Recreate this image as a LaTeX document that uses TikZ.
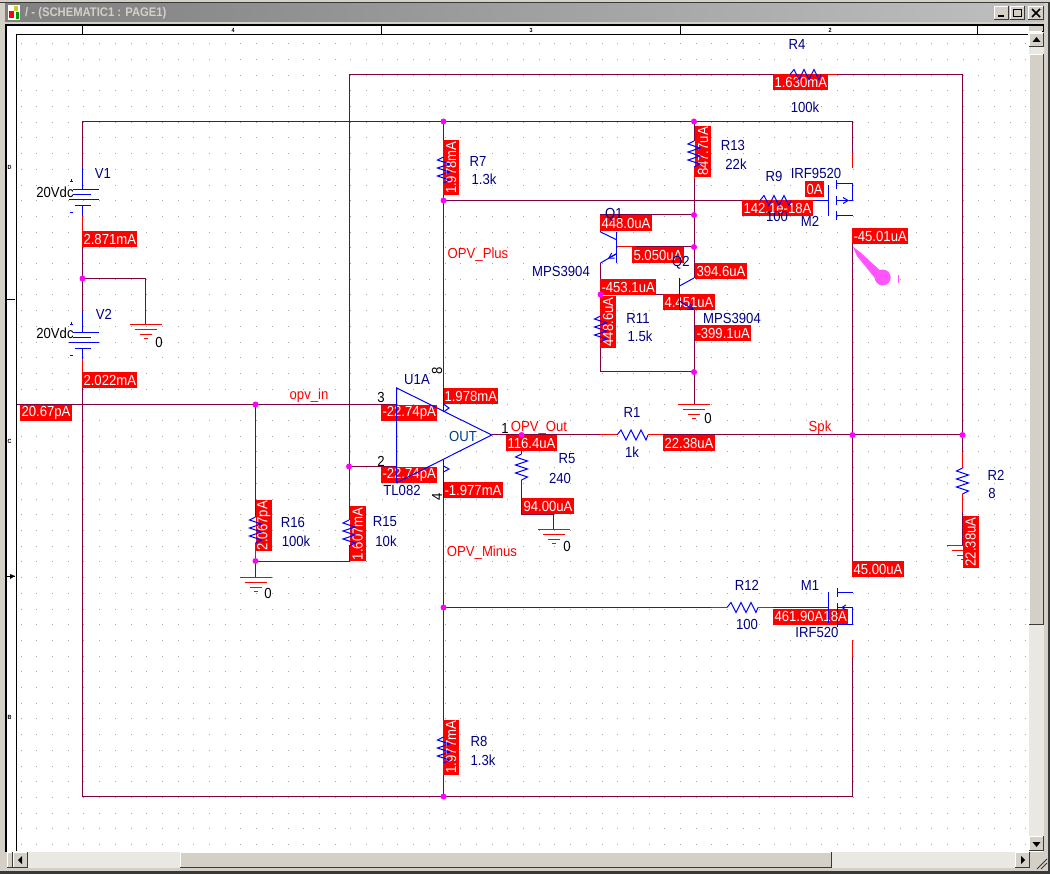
\documentclass[tikz,border=0pt]{standalone}
\usepackage{fontspec}
\setmainfont[FakeStretch=0.9]{Liberation Sans}
\usetikzlibrary{arrows.meta}
\definecolor{wirecol}{RGB}{128,0,64}
\definecolor{partcol}{RGB}{0,0,255}
\definecolor{refcol}{RGB}{0,0,128}
\definecolor{dotcol}{RGB}{255,0,255}
\definecolor{probecol}{RGB}{255,85,255}
\definecolor{wincol}{RGB}{212,208,200}
\definecolor{dithercol}{RGB}{234,232,227}
\newcommand{\winbtn}[4]{
	\fill[gray!45!black] (#1,#2) rectangle (#3,#4);
	\fill[white] (#1,#2) rectangle ({#3-1},{#4-1});
	\fill[wincol] ({#1+1},{#2+1}) rectangle ({#3-1},{#4-1});
}
\tikzset{
	wire/.style={draw=wirecol, line width=1pt},
	pinred/.style={draw=red, line width=1pt},
	part/.style={draw=partcol, line width=1pt},
	junc/.style={circle, fill=dotcol, inner sep=0, minimum size=6pt},
	curlabel/.style={fill=red, text=white, inner sep=0, inner xsep=1.3pt, minimum height=16pt, anchor=north west},
	curlabelv/.style={curlabel, rotate=90},
	reflabel/.style={text=refcol},
	netlabel/.style={text=red},
	pinlabel/.style={text=black},
	hres/.pic={\draw[part] (0,0) -- (4,-5) -- (9,5) -- (14,-5) -- (19,5) -- (24,-5) -- (29,5) -- (31,0);},
	vres/.pic={\draw[part] (0,0) -- (-6,3) -- (6,7) -- (-6,11) -- (6,15) -- (-6,19) -- (6,23) -- (0,26);},
	gndsym/.pic={
		\draw[pinred] (-16,0) -- (16,0);
		\draw[pinred] (-11,5) -- (11,5);
		\draw[pinred] (-6,10) -- (6,10);
		\draw[pinred] (-2,14) -- (2,14);
	},
	battsym/.pic={
		\draw[part] (0,0) -- (0,22);
		\draw[part] (-10,22) -- (16,22);
		\draw[part] (-10,27) -- (8,27);
		\draw[part] (-14,32) -- (16,32);
		\draw[part] (-8,38) -- (8,38);
		\draw[part] (0,38) -- (0,48);
		\draw[part, line width=.7pt] (-13,13) -- (-10,13) (-11.5,11.5) -- (-11.5,14.5);
		\draw[part, line width=.7pt] (-13,44) -- (-10,44);
	},
	every node/.style={font=\fontsize{14.6}{15}\selectfont, inner sep=0}
}
\begin{document}
\begin{tikzpicture}[x=1pt, y=-1pt]
	\useasboundingbox (0,0) rectangle (1050,874);
	% Fenster
	\fill[wincol] (0,0) rectangle (1050,874);
	\fill[gray!45!black] (0,2) rectangle (1050,3.5);
	\shade[left color=gray, right color=gray!50] (5,4) rectangle (1044,22);
	\fill[white] (7,25) rectangle (1043,852);
	\draw[black, line width=2pt] (6,852) -- (6,25) -- (1043,25) -- (1043,32);
	\draw[black, line width=1pt] (16,851) -- (16,34.5) -- (1028,34.5);
	\foreach \x in {82.5,381,680,977}
		\draw[black, line width=1pt] (\x,25) -- (\x,34);
	\foreach \y in {300,576}
		\draw[black, line width=1pt] (7,\y) -- (15,\y);
	\fill[black] (10,574) -- (15,576) -- (10,579) -- cycle;
	\node[pinlabel, font=\fontsize{6}{6}\selectfont\bfseries] (ruler4) at (233,30) {4};
	\node[pinlabel, font=\fontsize{6}{6}\selectfont\bfseries] (ruler3) at (531,30) {3};
	\node[pinlabel, font=\fontsize{6}{6}\selectfont\bfseries] (ruler2) at (830,30) {2};
	\node[pinlabel, font=\fontsize{6}{6}\selectfont\bfseries] (rulerD) at (9.5,167) {D};
	\node[pinlabel, font=\fontsize{6}{6}\selectfont\bfseries] (rulerC) at (9.5,441) {C};
	\node[pinlabel, font=\fontsize{6}{6}\selectfont\bfseries] (rulerB) at (9.5,717) {B};
	\node[text=wincol, anchor=west, font=\fontsize{12.5}{14}\selectfont\bfseries] (title) at (25,13) {/ - (SCHEMATIC1 : PAGE1)};
	\fill[white] (8,5) rectangle (20,20);
	\fill[red] (9,11) rectangle (14,18);
	\fill[yellow!80!black] (14,6) rectangle (18,11);
	\fill[green!60!black] (16,12) rectangle (19,19);
	% Knoepfe und Rollbalken
	\winbtn{994}{6}{1009}{20}
	\winbtn{1010}{6}{1025}{20}
	\winbtn{1028}{6}{1044}{20}
	\draw[black, line width=2pt] (998,16) -- (1004,16);
	\draw[black, line width=1pt] (1013.5,9.5) rectangle (1021.5,16.5);
	\draw[black, line width=1.5pt] (1032,9) -- (1040,17) (1040,9) -- (1032,17);
	\fill[dithercol] (1029,47) rectangle (1044,838);
	\fill[wincol] (1029,26) rectangle (1043,31);
	\winbtn{1029}{33}{1044}{47}
	\winbtn{1029}{54}{1044}{625}
	\winbtn{1029}{836}{1044}{851}
	\fill[black] (1036.5,37) -- (1032.5,42) -- (1040.5,42) -- cycle;
	\fill[black] (1036.5,847) -- (1032.5,842) -- (1040.5,842) -- cycle;
	\fill[dithercol] (14,852) rectangle (1030,868);
	\winbtn{7}{852}{13}{868}
	\winbtn{13}{852}{28}{868}
	\winbtn{180}{852}{832}{868}
	\winbtn{1015}{852}{1030}{868}
	\fill[black] (18,860) -- (22,856) -- (22,864) -- cycle;
	\fill[black] (1025,860) -- (1021,856) -- (1021,864) -- cycle;
	\draw[gray!45!black, line width=1pt] (1037,869) -- (1047,859) (1041,869) -- (1047,863);
	\fill[gray!45!black] (0,871) rectangle (1050,874);
	\fill[gray!45!black] (1048,3.5) rectangle (1050,874);
	% Rasterpunkte
	\foreach \i in {0,...,64}
		\foreach \j in {0,...,51}
			\fill[gray!70] ({20.6+\i*15.7},{43.3+\j*15.7}) rectangle ++(1,1);
	% Punkte der Leitungen
	\coordinate (fbTL) at (349,74.5);
	\coordinate (fbTR) at (962.5,74.5);
	\coordinate (supTL) at (82.5,121.5);
	\coordinate (supTR) at (852.5,121.5);
	\coordinate (supBL) at (82.5,796.5);
	\coordinate (supBR) at (852.5,796.5);
	\coordinate (jV) at (82.5,278.5);
	\coordinate (jTopA) at (443.5,121.5);
	\coordinate (jTopB) at (694,121.5);
	\coordinate (jBot) at (443.5,796.5);
	\coordinate (jPlus) at (443.5,200.5);
	\coordinate (jMinus) at (443.5,607.5);
	\coordinate (jCollA) at (694,215);
	\coordinate (jBaseA) at (694,247);
	\coordinate (jEmit) at (600.5,294.5);
	\coordinate (jGnd) at (694,372);
	\coordinate (jIn) at (255.5,404.5);
	\coordinate (jInv) at (349,466.5);
	\coordinate (jOut) at (521.5,435);
	\coordinate (jSpkA) at (852.5,435);
	\coordinate (jSpkB) at (962.5,435);
	\coordinate (jDiv) at (255.5,561);
	\coordinate (divR) at (349,561);
	\coordinate (inL) at (17,404.5);
	\coordinate (opP) at (396.7,404.5);
	\coordinate (opN) at (396.7,466.5);
	\coordinate (opT) at (491.7,435);
	\coordinate (opVp) at (443.5,388);
	\coordinate (opVn) at (443.5,498);
	\coordinate (v1t) at (82.5,168);
	\coordinate (v1b) at (82.5,216);
	\coordinate (v2t) at (82.5,311);
	\coordinate (v2b) at (82.5,359);
	\coordinate (r4l) at (790,74.5);
	\coordinate (r4r) at (821,74.5);
	\coordinate (r1l) at (617,435);
	\coordinate (r1r) at (648,435);
	\coordinate (r9l) at (760,200.5);
	\coordinate (r9r) at (791,200.5);
	\coordinate (r12l) at (727,607.5);
	\coordinate (r12r) at (758,607.5);
	\coordinate (r7t) at (443.5,157);
	\coordinate (r7b) at (443.5,183);
	\coordinate (r8t) at (443.5,737);
	\coordinate (r8b) at (443.5,763);
	\coordinate (r13t) at (694,141);
	\coordinate (r13b) at (694,167);
	\coordinate (r11t) at (600.5,316);
	\coordinate (r11b) at (600.5,342);
	\coordinate (r16t) at (255.5,517);
	\coordinate (r16b) at (255.5,543);
	\coordinate (r15t) at (349,520);
	\coordinate (r15b) at (349,546);
	\coordinate (r5t) at (521.5,454);
	\coordinate (r5b) at (521.5,480);
	\coordinate (r2t) at (962.5,468);
	\coordinate (r2b) at (962.5,494);
	\coordinate (gndA) at (145.5,325);
	\coordinate (gndB) at (255.5,577);
	\coordinate (gndC) at (553.5,529);
	\coordinate (gndD) at (694,405);
	\coordinate (gndE) at (962.5,545);
	\coordinate (q1c) at (600.5,215);
	\coordinate (q1ce) at (600.5,232);
	\coordinate (q1b) at (616,247);
	\coordinate (q1e) at (600.5,263);
	\coordinate (q2c) at (694,278);
	\coordinate (q2b) at (679.5,294.5);
	\coordinate (q2e) at (694,310);
	\coordinate (m2g) at (828.3,200.5);
	\coordinate (m2d) at (852.5,153);
	\coordinate (m2s) at (852.5,232);
	\coordinate (m1d) at (852.5,577);
	\coordinate (m1g) at (828.3,607.5);
	\coordinate (m1s) at (852.5,640);
	% Leitungen
	\draw[wire] (r15t) -- (fbTL) -- (r4l);
	\draw[wire] (r4r) -- (fbTR) -- (jSpkB) -- (r2t);
	\draw[wire] (v1t) -- (supTL) -- (supTR) -- (m2d);
	\draw[wire] (v1b) -- (v2t);
	\draw[wire] (jV) -| (gndA);
	\draw[wire] (v2b) -- (supBL) -- (supBR) -- (m1s);
	\draw[wire] (inL) -- (opP);
	\draw[wire] (jIn) -- (r16t);
	\draw[wire] (r16b) -- (gndB);
	\draw[wire] (jDiv) -- (divR) -- (r15b);
	\draw[wire] (jInv) -- (opN);
	\draw[wire] (jTopA) -- (r7t);
	\draw[wire] (r7b) -- (opVp);
	\draw[wire] (opVn) -- (r8t);
	\draw[wire] (r8b) -- (jBot);
	\draw[wire] (jPlus) -- (r9l);
	\draw[wire] (r9r) -- (m2g);
	\draw[wire] (jMinus) -- (r12l);
	\draw[wire] (r12r) -- (m1g);
	\draw[wire] (jTopB) -- (r13t);
	\draw[wire] (r13b) -- (q2c);
	\draw[wire] (jCollA) -- (q1c) -- (q1ce);
	\draw[wire] (jBaseA) -- (q1b);
	\draw[wire] (q1e) -- (r11t);
	\draw[wire] (jEmit) -- (q2b);
	\draw[wire] (r11b) |- (jGnd);
	\draw[wire] (q2e) -- (gndD);
	\draw[wire] (opT) -- (r1l);
	\draw[wire] (r1r) -- (jSpkB);
	\draw[wire] (jOut) -- (r5t);
	\draw[wire] (r5b) |- ++(32,34) -- (gndC);
	\draw[wire] (r2b) -- (gndE);
	\draw[wire] (m2s) -- (m1d);
	% rote Anschluesse
	\draw[pinred] (v1b) -- ++(0,16);
	\draw[pinred] (v2b) -- ++(0,14);
	\draw[pinred] (r4r) -- ++(16,0);
	\draw[pinred] (r1l) -- ++(-17,0);
	\draw[pinred] (r1r) -- ++(15,0);
	\draw[pinred] (r12l) -- ++(-16,0);
	\draw[pinred] (r12r) -- ++(15,0);
	\draw[pinred] (m2d) -- ++(0,15);
	\draw[pinred] (m1s) -- ++(0,17);
	\draw[pinred] (m1d) -- ++(0,-16);
	\draw[pinred] (q1b) -- ++(20,0);
	\draw[pinred] (r2t) -- ++(0,-16);
	\draw[pinred] (r2b) -- ++(0,18);
	\draw[pinred] (r16b) -- ++(0,16);
	\draw[pinred] (r13b) -- ++(0,12);
	\pic at (gndE) {gndsym};
	% Stromwerte
	\node[curlabel] (iR4) at (773,74) {1.630mA};
	\node[curlabel] (iV1) at (82,231) {2.871mA};
	\node[curlabel] (iV2) at (82,372) {2.022mA};
	\node[curlabel] (iIn) at (20,404.5) {20.67pA};
	\node[curlabel] (iR9) at (742,200) {142.1e-18A};
	\node[curlabel] (iM2g) at (805,181) {0A};
	\node[curlabel] (iM2) at (852,228) {-45.01uA};
	\node[curlabel] (iQ1c) at (600,215) {448.0uA};
	\node[curlabel] (iQ1b) at (632,247) {5.050uA};
	\node[curlabel] (iQ2c) at (695,263) {394.6uA};
	\node[curlabel] (iQ1e) at (600,279) {-453.1uA};
	\node[curlabel] (iQ2b) at (663,294) {4.451uA};
	\node[curlabel] (iQ2e) at (695,325) {-399.1uA};
	\node[curlabel] (iVp) at (443,388) {1.978mA};
	\node[curlabel] (iP) at (381,405) {-22.74pA};
	\node[curlabel] (iN) at (381,467) {-22.74pA};
	\node[curlabel] (iVn) at (443,482) {-1.977mA};
	\node[curlabel] (iOut) at (506,435) {116.4uA};
	\node[curlabel] (iR1) at (663,435) {22.38uA};
	\node[curlabel] (iR5) at (522,498) {94.00uA};
	\node[curlabel] (iM1d) at (852,561) {45.00uA};
	\node[curlabel] (iM1g) at (773,608.5) {461.90A18A};
	\node[curlabelv] (iR7) at (443,195.5) {1.978mA};
	\node[curlabelv] (iR13) at (695,177.5) {847.7uA};
	\node[curlabelv] (iR11) at (600,348) {448.6uA};
	\node[curlabelv] (iR16) at (255.5,551.5) {2.067pA};
	\node[curlabelv] (iR15) at (349.5,561.5) {1.607mA};
	\node[curlabelv] (iR8) at (443,775) {1.977mA};
	\node[curlabelv] (iR2) at (962.5,568) {22.38uA};
	% Widerstaende und Quellen
	\pic at (r4l) {hres};
	\pic at (r1l) {hres};
	\pic at (r9l) {hres};
	\pic at (r12l) {hres};
	\pic at (r7t) {vres};
	\pic at (r8t) {vres};
	\pic at (r13t) {vres};
	\pic at (r11t) {vres};
	\pic at (r16t) {vres};
	\pic at (r15t) {vres};
	\pic at (r5t) {vres};
	\pic at (r2t) {vres};
	\pic at (v1t) {battsym};
	\pic at (v2t) {battsym};
	\pic at (gndA) {gndsym};
	\pic at (gndB) {gndsym};
	\pic at (gndC) {gndsym};
	\pic at (gndD) {gndsym};
	% Operationsverstaerker
	\draw[part] (396.7,388) -- (396.7,482.7) -- (opT) -- cycle;
	\draw[part] (opVp) -- (443.5,411);
	\draw[part] (443.5,460) -- (opVn);
	\draw[part] (443.5,404) -- (449,408) -- (443.5,412);
	\draw[part] (443.5,466) -- (449,469) -- (443.5,472);
	% Transistoren
	\draw[part] (616,232) -- (616,263);
	\draw[part] (q1ce) -- (616,239.5);
	\draw[part, {Straight Barb[length=5pt,width=6pt]}-] (608,258.5) -- (616,254);
	\draw[part] (q1e) -- (616,254);
	\draw[part] (679.5,278) -- (679.5,310);
	\draw[part] (679.5,286) -- (q2c);
	\draw[part, -{Straight Barb[length=5pt,width=6pt]}] (679.5,301) -- (q2e);
	\draw[part] (816,200.5) -- (m2g);
	\draw[part] (m2g) ++(0,-15.5) -- ++(0,31);
	\draw[part] (836.5,180) -- (836.5,189);
	\draw[part] (836.5,196.5) -- (836.5,205);
	\draw[part] (836.5,211) -- (836.5,220);
	\draw[part] (836.5,184) -| (852.5,200.5);
	\draw[part, -{Straight Barb[length=5pt,width=6pt]}] (836.5,200.5) -- (849,200.5);
	\draw[part] (849,200.5) -- (852.5,200.5);
	\draw[part] (836.5,215.5) -- (852.5,215.5);
	\draw[part] (m1g) ++(0,-15.5) -- ++(0,31);
	\draw[part] (837,588) -- (837,597);
	\draw[part] (837,603) -- (837,613);
	\draw[part] (837,619) -- (837,627);
	\draw[part] (837,592) -- (852.5,592);
	\draw[part, {Straight Barb[length=4pt,width=5pt]}-] (841,607.5) -- (852.5,607.5) -- (852.5,624) -- (837,624);
	\draw[part] (837,607.5) -- (842,607.5);
	% Messsonde
	\fill[probecol] (853,247) -- (860,252) -- (885,275) -- (878,282) -- (857,256) -- cycle;
	\fill[probecol] (882.7,277.5) circle[radius=8pt];
	\draw[probecol, line width=1pt] (898.3,275) -- (898.3,283);
	% Knotenpunkte
	\foreach \n in {jV,jTopA,jTopB,jBot,jPlus,jMinus,jCollA,jBaseA,jEmit,jGnd,jIn,jInv,jOut,jSpkA,jSpkB,jDiv}
		\node[junc] (dot\n) at (\n) {};
	% Beschriftung
	\node[reflabel] (lblV1) at (103,173) {V1};
	\node[reflabel] (lblV2) at (104,314) {V2};
	\node[pinlabel] (valV1) at (55,192) {20Vdc};
	\node[pinlabel] (valV2) at (55,333) {20Vdc};
	\node[reflabel] (lblR4) at (797,44) {R4};
	\node[reflabel] (valR4) at (805,107) {100k};
	\node[reflabel] (lblR7) at (478,161) {R7};
	\node[reflabel] (valR7) at (484,179) {1.3k};
	\node[reflabel] (lblR13) at (733,145) {R13};
	\node[reflabel] (valR13) at (736,164) {22k};
	\node[reflabel] (lblR9) at (774,176) {R9};
	\node[reflabel] (valR9) at (777,216) {100};
	\node[reflabel] (lblM2) at (810,221) {M2};
	\node[reflabel] (valM2) at (816,173) {IRF9520};
	\node[reflabel] (lblQ1) at (614,215) {Q1};
	\node[reflabel] (valQ1) at (561,271) {MPS3904};
	\node[reflabel] (lblQ2) at (681,263) {Q2};
	\node[reflabel] (valQ2) at (732,318) {MPS3904};
	\node[reflabel] (lblR11) at (638,318) {R11};
	\node[reflabel] (valR11) at (640,336) {1.5k};
	\node[reflabel] (lblU1) at (417,380) {U1A};
	\node[reflabel] (valU1) at (402,490) {TL082};
	\node[text={rgb,255:red,0;green,64;blue,128}] (lblOut) at (463,436) {OUT};
	\node[reflabel] (lblR1) at (632,412) {R1};
	\node[reflabel] (valR1) at (632,452) {1k};
	\node[reflabel] (lblR5) at (567,459) {R5};
	\node[reflabel] (valR5) at (560,478) {240};
	\node[reflabel] (lblR16) at (293,522) {R16};
	\node[reflabel] (valR16) at (296,541) {100k};
	\node[reflabel] (lblR15) at (385,522) {R15};
	\node[reflabel] (valR15) at (386,541) {10k};
	\node[reflabel] (lblR2) at (996,475) {R2};
	\node[reflabel] (valR2) at (992,493) {8};
	\node[reflabel] (lblR12) at (747,585) {R12};
	\node[reflabel] (valR12) at (747,624) {100};
	\node[reflabel] (lblM1) at (810,585) {M1};
	\node[reflabel] (valM1) at (817,632) {IRF520};
	\node[reflabel] (lblR8) at (479,741) {R8};
	\node[reflabel] (valR8) at (483,760) {1.3k};
	\node[netlabel] (netPlus) at (478,255) {OPV\_Plus};
	\node[netlabel] (netMinus) at (482,553) {OPV\_Minus};
	\node[netlabel] (netOut) at (539,428) {OPV\_Out};
	\node[netlabel] (netIn) at (309,396) {opv\_in};
	\node[netlabel] (netSpk) at (820,428) {Spk};
	\node[pinlabel] (pin3) at (381,397) {3};
	\node[pinlabel] (pin2) at (381,461) {2};
	\node[pinlabel] (pin1) at (505,428) {1};
	\node[pinlabel, rotate=90] (pin8) at (437,371) {8};
	\node[pinlabel, rotate=90] (pin4) at (437,497) {4};
	\node[pinlabel] (zeroA) at (159,342) {0};
	\node[pinlabel] (zeroB) at (268,593) {0};
	\node[pinlabel] (zeroC) at (567,546) {0};
	\node[pinlabel] (zeroD) at (708,418) {0};
\end{tikzpicture}
\end{document}
